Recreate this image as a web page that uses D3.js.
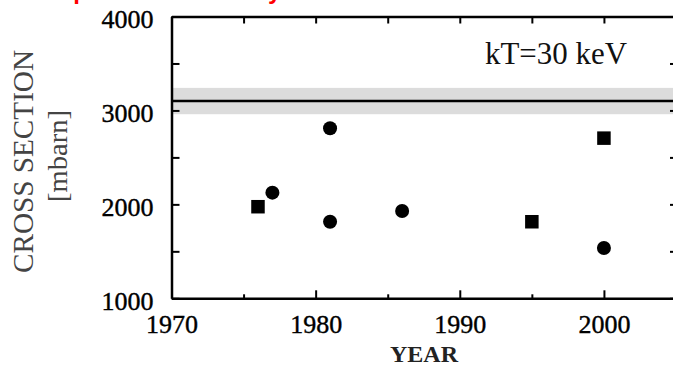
<!DOCTYPE html>
<html>
<head>
<meta charset="utf-8">
<script src="https://cdn.jsdelivr.net/npm/d3@7"></script>
<style>
  body { margin: 0; background: #fff; overflow: hidden; }
  svg { display: block; }
</style>
</head>
<body>
<svg id="chart" width="673" height="365"></svg>
<script>
// measured cross sections, by year
const circleYears = [1977, 1981, 1981, 1986, 2000];
const circleValues = [2125, 1815, 2810, 1930, 1535];
const squareYears = [1976, 1995, 2000];
const squareValues = [1975, 1815, 2705];

// recommended value at kT=30 keV and its uncertainty band
const refValue = 3100;
const refError = 140;

const xMajor = [1970, 1980, 1990, 2000];
const xMinor = [1975, 1985, 1995];
const yMajor = [1000, 2000, 3000, 4000];
const yMinor = [1500, 2500, 3500];

const serif = "'Liberation Serif', 'Times New Roman', Times, serif";

const width = 673, height = 365;
const margin = {top: 16.5, right: -3, bottom: 66.7, left: 171.5};

const svg = d3.select("#chart");

const x = d3.scaleLinear()
    .domain([1970, 2005])
    .range([margin.left, width - margin.right]);

const y = d3.scaleLinear()
    .domain([1000, 4000])
    .range([height - margin.bottom, margin.top]);

// red title, cut off by the top edge
svg.append("text")
    .attr("x", 44)
    .attr("y", -1)
    .style("font-family", "'Liberation Sans', Arial, sans-serif")
    .style("font-weight", "bold")
    .style("font-size", "24px")
    .attr("fill", "#f00")
    .text("Experimental history");

// band + reference line
svg.append("rect")
    .attr("x", x(1970))
    .attr("width", x(2005) - x(1970))
    .attr("y", y(refValue + refError))
    .attr("height", y(refValue - refError) - y(refValue + refError))
    .attr("fill", "#dcdcdc");

svg.append("line")
    .attr("x1", x(1970)).attr("x2", x(2005))
    .attr("y1", y(refValue)).attr("y2", y(refValue))
    .attr("stroke", "#000")
    .attr("stroke-width", 2.5);

// axes, ticks pointing inward
const axisStyle = g => {
    g.selectAll(".domain").attr("stroke", "#000").attr("stroke-width", 2.5);
    g.selectAll(".tick line").attr("stroke", "#000").attr("stroke-width", 2);
};
const labelStyle = t => t
    .attr("fill", "#000")
    .attr("stroke", "#000")
    .attr("stroke-width", 0.4)
    .style("font-family", serif)
    .style("font-size", "26px");

svg.append("g")
    .attr("transform", `translate(0,${y(1000)})`)
    .call(d3.axisBottom(x).tickValues(xMajor).tickSize(-8).tickPadding(0).tickFormat(d3.format("d")).tickSizeOuter(0))
    .call(axisStyle)
    .call(g => g.selectAll(".tick text").attr("y", 34.4).attr("dy", null).call(labelStyle));

svg.append("g")
    .attr("transform", `translate(0,${y(1000)})`)
    .call(d3.axisBottom(x).tickValues(xMinor).tickSize(-4).tickFormat(""))
    .call(g => g.select(".domain").remove())
    .call(axisStyle);

svg.append("g")
    .attr("transform", `translate(0,${y(4000)})`)
    .call(d3.axisTop(x).tickValues(xMajor.concat(xMinor)).tickSize(-7).tickFormat("").tickSizeOuter(0))
    .call(axisStyle);

svg.append("g")
    .attr("transform", `translate(${x(1970)},0)`)
    .call(d3.axisLeft(y).tickValues(yMajor).tickSize(-8).tickFormat(d3.format("d")).tickSizeOuter(0))
    .call(axisStyle)
    .call(g => g.selectAll(".tick text").attr("x", -18).attr("dy", null).attr("y", 10.8).call(labelStyle));

svg.append("g")
    .attr("transform", `translate(${x(1970)},0)`)
    .call(d3.axisLeft(y).tickValues(yMinor).tickSize(-8).tickFormat(""))
    .call(g => g.select(".domain").remove())
    .call(axisStyle);

svg.append("g")
    .attr("transform", `translate(${x(2005)},0)`)
    .call(d3.axisRight(y).tickValues(yMajor.concat(yMinor)).tickSize(-6).tickFormat("").tickSizeOuter(0))
    .call(axisStyle);

// data points
svg.append("g")
    .selectAll("circle")
    .data(circleYears.map((d, i) => [d, circleValues[i]]))
    .join("circle")
    .attr("cx", d => x(d[0]))
    .attr("cy", d => y(d[1]))
    .attr("r", 7)
    .attr("fill", "#000");

const sq = 13.5;
svg.append("g")
    .selectAll("rect")
    .data(squareYears.map((d, i) => [d, squareValues[i]]))
    .join("rect")
    .attr("x", d => x(d[0]) - sq / 2)
    .attr("y", d => y(d[1]) - sq / 2)
    .attr("width", sq)
    .attr("height", sq)
    .attr("fill", "#000");

// labels
svg.append("text")
    .attr("x", 485)
    .attr("y", 63.5)
    .attr("textLength", 142)
    .attr("lengthAdjust", "spacingAndGlyphs")
    .attr("fill", "#111")
    .style("font-family", serif)
    .style("font-size", "32px")
    .text("kT=30 keV");

svg.append("text")
    .attr("transform", "translate(424,362)")
    .attr("text-anchor", "middle")
    .attr("textLength", 68)
    .attr("lengthAdjust", "spacingAndGlyphs")
    .attr("fill", "#222")
    .style("font-family", serif)
    .style("font-weight", "bold")
    .style("font-size", "24px")
    .text("YEAR");

svg.append("text")
    .attr("transform", "translate(33,161.5) rotate(-90)")
    .attr("text-anchor", "middle")
    .attr("textLength", 223)
    .attr("lengthAdjust", "spacingAndGlyphs")
    .attr("fill", "#444")
    .style("font-family", serif)
    .style("font-size", "29px")
    .text("CROSS SECTION");

svg.append("text")
    .attr("transform", "translate(66.5,156) rotate(-90)")
    .attr("text-anchor", "middle")
    .attr("textLength", 92)
    .attr("lengthAdjust", "spacingAndGlyphs")
    .attr("fill", "#444")
    .style("font-family", serif)
    .style("font-size", "27px")
    .text("[mbarn]");
</script>
</body>
</html>
